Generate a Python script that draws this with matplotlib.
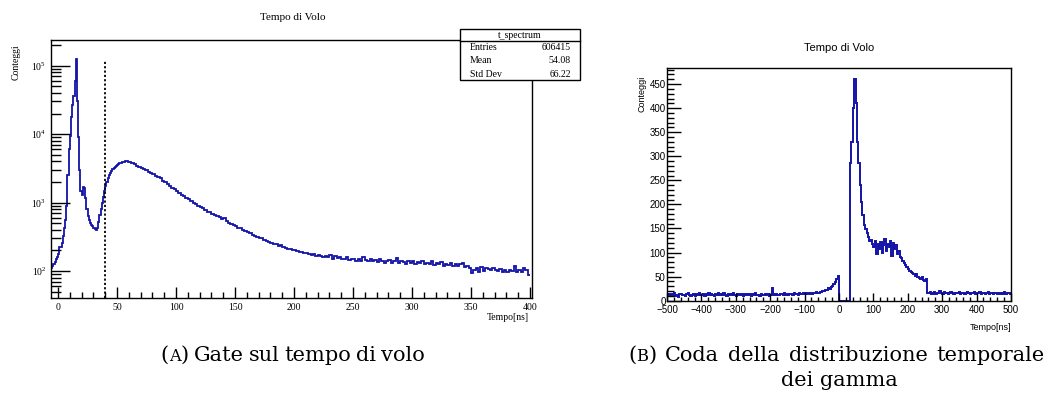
import numpy as np
import matplotlib
matplotlib.use("Agg")
import matplotlib.pyplot as plt
from matplotlib.patches import Rectangle
from matplotlib.lines import Line2D
from matplotlib.ticker import MultipleLocator, LogLocator, NullFormatter

# ---------------- data: panel A (time of flight, log scale) ----------------
# fine region: 1 ns bins starting at -6 ns
tof_fine_start = -6
tof_fine_width = 1
tof_fine_counts = [
    112, 118, 125, 135, 150, 160, 175, 225, 228, 260,
    330, 420, 560, 900, 2500, 6000, 9500, 18000, 27000, 36000,
    60000, 126000, 30000, 9000, 3000, 1500, 1300, 1700, 1650, 1150,
    800, 640, 560, 500, 470, 450, 420, 405, 400, 430,
    520, 650, 800, 980, 1200, 1500, 1750, 2000, 2250, 2500,
    2700, 2900, 3050, 3200, 3300, 3450, 3550, 3650, 3750, 3800,
    3850, 3900, 3950, 4000, 4010, 3980,
]
# coarse region: 2 ns bins starting at 60 ns
tof_coarse_start = 60
tof_coarse_width = 2
tof_coarse_counts = [
    3900, 3780, 3600, 3450, 3350, 3220, 3100, 2950, 2800, 2680,
    2600, 2480, 2400, 2250, 2100, 2000, 1870, 1760, 1650, 1560,
    1480, 1380, 1310, 1240, 1180, 1120, 1050, 990, 960, 900,
    870, 820, 790, 740, 720, 680, 660, 630, 610, 580,
    600, 530, 510, 490, 470, 450, 430, 420, 400, 385,
    370, 365, 340, 330, 318, 305, 300, 285, 275, 270,
    255, 250, 245, 235, 240, 222, 220, 212, 208, 205,
    200, 195, 190, 192, 183, 185, 180, 172, 178, 168,
    170, 165, 160, 168, 158, 172, 152, 165, 155, 160,
    150, 148, 158, 144, 150, 148, 140, 150, 142, 158,
    145, 138, 150, 140, 146, 135, 150, 140, 132, 138,
    145, 130, 138, 155, 132, 140, 135, 128, 138, 130,
    140, 125, 135, 130, 138, 126, 132, 128, 140, 122,
    132, 125, 135, 118, 128, 124, 130, 120, 126, 118,
    125, 132, 115, 120, 112, 95, 104, 110, 96, 115,
    100, 112, 108, 102, 110, 104, 100, 106, 98, 102,
    96, 105, 100, 118, 98, 104, 96, 110, 105, 88,
]
gate_ns = 40
gate_top = 1.2e5
stat_name = "t_spectrum"
stat_labels = ["Entries", "Mean", "Std Dev"]
stat_values = ["606415", "54.08", "66.22"]

# ---------------- data: panel B (gamma tail, linear scale) ----------------
gam_start = -500
gam_width = 4
gam_counts = [
    12, 14, 9, 13, 11, 15, 10, 12, 8, 13,
    14, 11, 12, 10, 13, 16, 11, 9, 12, 14,
    10, 13, 12, 15, 11, 12, 14, 10, 13, 12,
    16, 11, 13, 12, 10, 14, 12, 15, 11, 13,
    12, 17, 11, 10, 14, 12, 13, 11, 15, 12,
    10, 13, 12, 11, 14, 9, 12, 13, 11, 14,
    12, 10, 13, 12, 15, 11, 12, 10, 13, 12,
    11, 14, 12, 13, 10, 12, 26, 14, 11, 13,
    12, 11, 14, 13, 12, 15, 11, 13, 12, 14,
    13, 12, 15, 14, 13, 12, 16, 13, 14, 15,
    14, 16, 13, 15, 17, 14, 16, 15, 18, 16,
    17, 19, 18, 21, 20, 23, 22, 26, 25, 29, 31, 34, 38, 45, 52,
    0, 0, 0, 0, 0, 0, 0, 0,
    286, 330, 400, 460, 410, 330, 285, 240, 205, 178,
    158, 148, 140, 132, 124, 126, 118, 112, 125, 96,
    118, 108, 122, 100, 115, 128, 104, 118, 112, 124,
    92, 120, 108, 115, 98, 104, 90, 88, 82, 78,
    74, 70, 66, 62, 60, 58, 55, 52, 56, 50,
    48, 45, 50, 42, 40, 46,
    17, 15, 19, 14, 16, 18, 13, 17, 15, 20,
    16, 14, 18, 15, 17, 13, 16, 19, 15, 14,
    17, 16, 15, 18, 14, 16, 17, 13, 15, 18,
    16, 14, 17, 15, 19, 13, 16, 15, 18, 14,
    17, 15, 13, 16, 18, 14, 15, 17, 13, 16,
    15, 14, 17, 16, 13, 15, 18, 14, 16, 15,
    14,
]

captionA_words = ["Gate", "sul", "tempo", "di", "volo"]
captionB1_words = ["Coda", "della", "distribuzione", "temporale"]
captionB2 = "dei gamma"

# ---------------- figure ----------------
W, H = 1059, 401
fig = plt.figure(figsize=(W / 100, H / 100), dpi=100)
plt.rcParams["mathtext.fontset"] = "dejavuserif"

def fx(px):
    return px / W

def fy(py):
    return 1 - py / H

line_col = "#1414a8"
serif = "Liberation Serif"
sans = "Liberation Sans"
cap_font = "DejaVu Serif"
cap_size = 15

# ---- Panel A ----
axA = fig.add_axes([fx(50.5), fy(297.7), fx(531.7) - fx(50.5), fy(39.5) - fy(297.7)])
fine_edges = tof_fine_start + tof_fine_width * np.arange(len(tof_fine_counts) + 1)
coarse_edges = tof_coarse_start + tof_coarse_width * np.arange(len(tof_coarse_counts) + 1)
edges = np.concatenate([fine_edges, coarse_edges[1:]])
counts = np.array(tof_fine_counts + tof_coarse_counts, dtype=float)
axA.stairs(counts, edges, color=line_col, lw=1.3, baseline=None)
axA.set_yscale("log")
axA.set_xlim(-6.4, 401.4)
axA.set_ylim(40.8, 2.41e5)
axA.vlines(gate_ns, 40.8, gate_top, colors="black", linestyles=(0, (1.2, 1.2)), lw=1.3)
axA.xaxis.set_major_locator(MultipleLocator(50))
axA.xaxis.set_minor_locator(MultipleLocator(10))
axA.yaxis.set_major_locator(LogLocator(base=10, numticks=10))
axA.yaxis.set_minor_locator(LogLocator(base=10, subs=np.arange(2, 10), numticks=20))
axA.yaxis.set_minor_formatter(NullFormatter())
axA.tick_params(axis="both", which="both", direction="in", top=False, right=False)
axA.tick_params(axis="y", which="major", length=14, width=1.0, labelsize=7, pad=3)
axA.tick_params(axis="y", which="minor", length=7, width=1.0)
axA.tick_params(axis="x", which="major", length=8, width=1.0, labelsize=7, pad=4)
axA.tick_params(axis="x", which="minor", length=4, width=1.0)
for lab in axA.get_xticklabels() + axA.get_yticklabels():
    lab.set_fontfamily(serif)
for s in axA.spines.values():
    s.set_linewidth(1.0)
fig.text(fx(293), fy(17), "Tempo di Volo", family=serif, fontsize=8, ha="center", va="center")
fig.text(fx(16), fy(62), "Conteggi", family=serif, fontsize=7, rotation=90, ha="center", va="center")
fig.text(fx(529), fy(317), "Tempo[ns]", family=serif, fontsize=7, ha="right", va="center")

# stat box
bx0, bx1, by0, by1, byh = 460, 580, 29, 80, 41
fig.add_artist(Rectangle((fx(bx0), fy(by1)), fx(bx1) - fx(bx0), fy(by0) - fy(by1),
                         transform=fig.transFigure, facecolor="white", edgecolor="black", lw=1.0, zorder=5))
fig.add_artist(Line2D([fx(bx0), fx(bx1)], [fy(byh), fy(byh)], transform=fig.transFigure,
                      color="black", lw=1.0, zorder=6))
fig.text(fx((bx0 + bx1) / 2), fy(35), stat_name, family=serif, fontsize=7, ha="center", va="center", zorder=7)
for i, (lab, val) in enumerate(zip(stat_labels, stat_values)):
    yy = 47.7 + i * 13.2
    fig.text(fx(470), fy(yy), lab, family=serif, fontsize=7, ha="left", va="center", zorder=7)
    fig.text(fx(571), fy(yy), val, family=serif, fontsize=7, ha="right", va="center", zorder=7)

# ---- Panel B ----
axB = fig.add_axes([fx(667), fy(300.7), fx(1011) - fx(667), fy(67.7) - fy(300.7)])
g_edges = gam_start + gam_width * np.arange(len(gam_counts) + 1)
axB.stairs(np.array(gam_counts, dtype=float), g_edges, color=line_col, lw=1.4, baseline=None)
axB.set_xlim(-500, 500)
axB.set_ylim(0, 484)
axB.xaxis.set_major_locator(MultipleLocator(100))
axB.xaxis.set_minor_locator(MultipleLocator(20))
axB.yaxis.set_major_locator(MultipleLocator(50))
axB.yaxis.set_minor_locator(MultipleLocator(10))
axB.tick_params(axis="both", which="both", direction="in", top=False, right=False)
axB.tick_params(axis="y", which="major", length=10, width=1.0, labelsize=7, pad=1)
axB.tick_params(axis="y", which="minor", length=5, width=1.0)
axB.tick_params(axis="x", which="major", length=6, width=1.0, labelsize=7, pad=3)
axB.tick_params(axis="x", which="minor", length=3, width=1.0)
for lab in axB.get_xticklabels() + axB.get_yticklabels():
    lab.set_fontfamily(sans)
for s in axB.spines.values():
    s.set_linewidth(1.0)
fig.text(fx(839), fy(48), "Tempo di Volo", family=sans, fontsize=8, ha="center", va="center")
fig.text(fx(642), fy(94), "Conteggi", family=sans, fontsize=6.5, rotation=90, ha="center", va="center")
fig.text(fx(1011), fy(327), "Tempo[ns]", family=sans, fontsize=6.5, ha="right", va="center")

# ---- captions ----
renderer = fig.canvas.get_renderer()

def make_label(letter):
    return [("(", cap_size), (letter, cap_size * 0.78), (")", cap_size)]

def draw_pieces(x_px, y_px, pieces):
    """pieces: list of (string, size) drawn contiguously; returns end x."""
    x = x_px
    for s, size in pieces:
        t = fig.text(fx(x), fy(y_px), s, family=cap_font, fontsize=size, ha="left", va="baseline")
        x += t.get_window_extent(renderer).width
    return x

def width_of(pieces):
    total = 0.0
    for s, size in pieces:
        t = fig.text(0, 0, s, family=cap_font, fontsize=size)
        total += t.get_window_extent(renderer).width
        t.remove()
    return total

space_w = 5.0
base_y = 361

# caption A: natural spacing, centred under panel A
groupsA = [make_label("A")] + [[(w, cap_size)] for w in captionA_words]
widthsA = [width_of(g) for g in groupsA]
totalA = sum(widthsA) + space_w * (len(groupsA) - 1)
x = 293 - totalA / 2
for g, wdt in zip(groupsA, widthsA):
    draw_pieces(x, base_y, g)
    x += wdt + space_w

# caption B first line: justified between left and right margins
groupsB = [make_label("B")] + [[(w, cap_size)] for w in captionB1_words]
widthsB = [width_of(g) for g in groupsB]
left_B, right_B = 628, 1045
gapB = (right_B - left_B - sum(widthsB)) / (len(groupsB) - 1)
x = left_B
for g, wdt in zip(groupsB, widthsB):
    draw_pieces(x, base_y, g)
    x += wdt + gapB
fig.text(fx(839), fy(386), captionB2, family=cap_font, fontsize=cap_size, ha="center", va="baseline")

fig.savefig("out.png", dpi=100)
